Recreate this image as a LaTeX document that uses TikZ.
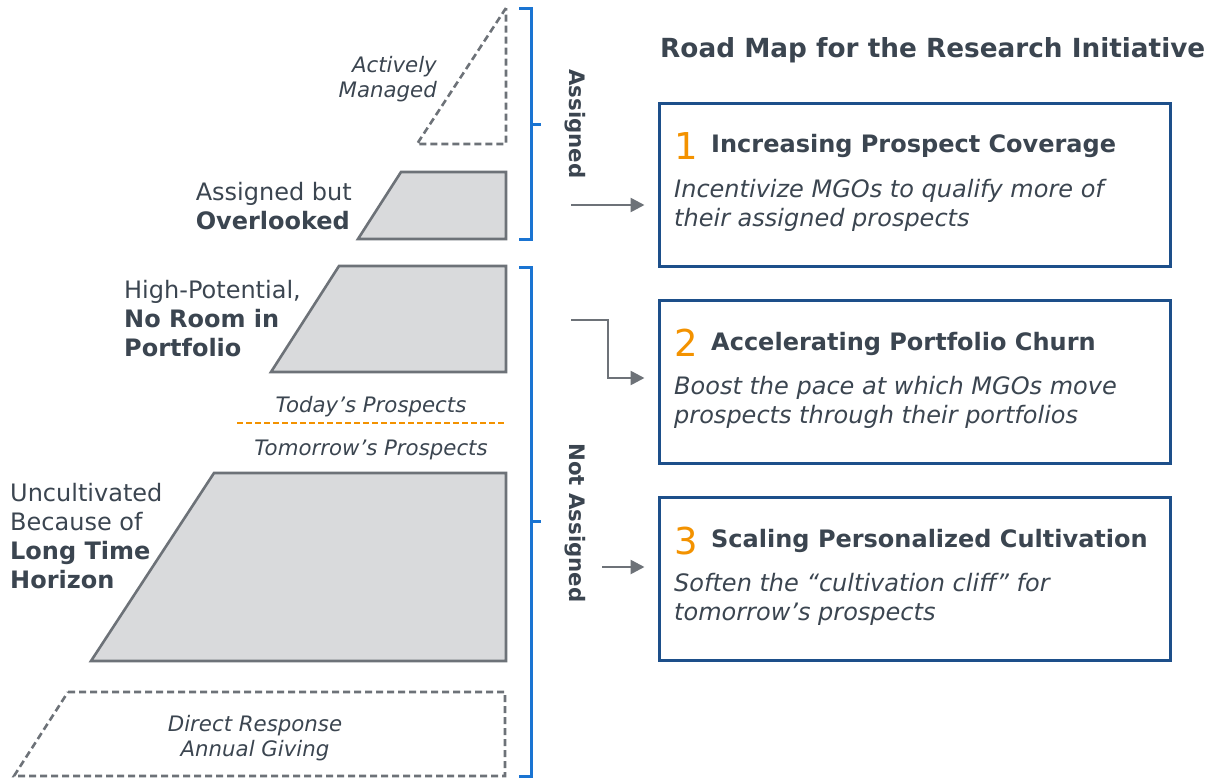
\documentclass[tikz,border=0pt]{standalone}
\usepackage{fontspec}
\setmainfont{DejaVu Sans}
\usepackage{tikz}
\usetikzlibrary{arrows.meta}

\definecolor{txt}{HTML}{3B4550}
\definecolor{edge}{HTML}{6D7278}
\definecolor{shade}{HTML}{D9DADC}
\definecolor{brk}{HTML}{1A74D2}
\definecolor{navy}{HTML}{1D4F8A}
\definecolor{orng}{HTML}{F39200}

\newcommand\lblfont{\fontsize{24}{29}\selectfont}
\newcommand\smlfont{\fontsize{21.3}{25}\selectfont\itshape}
\newcommand\ttlfont{\fontsize{24}{29}\selectfont\bfseries}
\newcommand\numfont{\fontsize{37}{40}\selectfont}

\tikzset{
  tier/.style={draw=edge, fill=shade, line width=2.6pt, line join=miter},
  ghost/.style={draw=edge, dashed, dash pattern=on 7pt off 4pt, line width=2.6pt},
  lbl/.style={inner sep=0pt, text=txt, font=\lblfont},
  brace/.style={draw=brk, line width=3pt},
  road/.style={draw=navy, line width=3pt, minimum width=511pt, minimum height=163pt, inner sep=0pt},
  arr/.style={draw=edge, line width=2.6pt, -{Triangle[length=14pt, width=14pt]}},
}

\begin{document}
\begin{tikzpicture}[x=1pt, y=-1pt]
        \useasboundingbox (0,0) rectangle (1219,779);

        % pyramid tiers
        \coordinate (A) at (506,8);
        \coordinate (B) at (417,144);
        \coordinate (C) at (506,144);
        \draw[ghost] (A) -- (B) -- (C) -- cycle;

        \draw[tier] (401,172) -- (506,172) -- (506,239) -- (358,239) -- cycle;
        \draw[tier] (339,266) -- (506,266) -- (506,372) -- (271,372) -- cycle;
        \draw[tier] (214,473) -- (506,473) -- (506,661) -- (91,661) -- cycle;
        \draw[ghost] (68,692) -- (505,692) -- (505,776) -- (14,776) -- cycle;

        \draw[orng, line width=2.4pt, dash pattern=on 6pt off 3pt] (237,423) -- (506,423);

        % labels of the tiers (base = last line)
        \node[lbl, anchor=base east, align=right, font=\smlfont] (managed) at (437,97) {Actively\\Managed};
        \node[lbl, anchor=base east, align=left] (overlooked) at (352,229) {Assigned but\\\textbf{Overlooked}};
        \node[lbl, anchor=base west, align=left] (noroom) at (124,356) {High-Potential,\\\textbf{No Room in}\\\textbf{Portfolio}};
        \node[lbl, anchor=base west, align=left] (horizon) at (10,588) {Uncultivated\\Because of\\\textbf{Long Time}\\\textbf{Horizon}};
        \node[lbl, anchor=base, font=\smlfont] (today) at (371,412) {Today’s Prospects};
        \node[lbl, anchor=base, font=\smlfont] (tomorrow) at (371,455) {Tomorrow’s Prospects};
        \node[lbl, anchor=base, align=center, font=\smlfont] (direct) at (255,756) {Direct Response\\Annual Giving};

        % brackets
        \draw[brace] (519,8) -- (531,8) -- (531,239) -- (519,239);
        \draw[brace] (531,124) -- (541,124);
        \draw[brace] (519,267) -- (531,267) -- (531,776) -- (519,776);
        \draw[brace] (531,521) -- (541,521);
        \node[lbl, rotate=-90, font=\fontsize{21.3}{25}\selectfont\bfseries] (assigned) at (575,124) {Assigned};
        \node[lbl, rotate=-90, font=\fontsize{21.3}{25}\selectfont\bfseries] (notassigned) at (575,523) {Not Assigned};

        % road map
        \node[lbl, anchor=base west, font=\fontsize{26.3}{30}\selectfont\bfseries] (roadmap) at (660,57) {Road Map for the Research Initiative};

        \node[road] (box1) at (914.5,184.5) {};
        \node[road] (box2) at (914.5,381.5) {};
        \node[road] (box3) at (914.5,578.5) {};

        \node[lbl, anchor=base west, text=orng, font=\numfont] (n1) at (674,159) {1};
        \node[lbl, anchor=base west, font=\ttlfont] (t1) at (711,152) {Increasing Prospect Coverage};
        \node[lbl, anchor=base west, align=left, font=\lblfont\itshape] (d1) at (674,226) {Incentivize MGOs to qualify more of\\their assigned prospects};

        \node[lbl, anchor=base west, text=orng, font=\numfont] (n2) at (674,356) {2};
        \node[lbl, anchor=base west, font=\ttlfont] (t2) at (711,350) {Accelerating Portfolio Churn};
        \node[lbl, anchor=base west, align=left, font=\lblfont\itshape] (d2) at (674,423) {Boost the pace at which MGOs move\\prospects through their portfolios};

        \node[lbl, anchor=base west, text=orng, font=\numfont] (n3) at (674,554) {3};
        \node[lbl, anchor=base west, font=\ttlfont] (t3) at (711,547) {Scaling Personalized Cultivation};
        \node[lbl, anchor=base west, align=left, font=\lblfont\itshape] (d3) at (674,620) {Soften the “cultivation cliff” for\\tomorrow’s prospects};

        % connectors
        \coordinate (a1) at (571,205);
        \coordinate (a2) at (571,320);
        \coordinate (a3) at (602,567);
        \draw[arr, shorten >=13pt] (a1) -- (a1 -| box1.west);
        \draw[arr, shorten >=13pt] (a2) -- (608,320) -- (608,378) -- (box2.west |- 0,378);
        \draw[arr, shorten >=13pt] (a3) -- (a3 -| box3.west);
\end{tikzpicture}
\end{document}
